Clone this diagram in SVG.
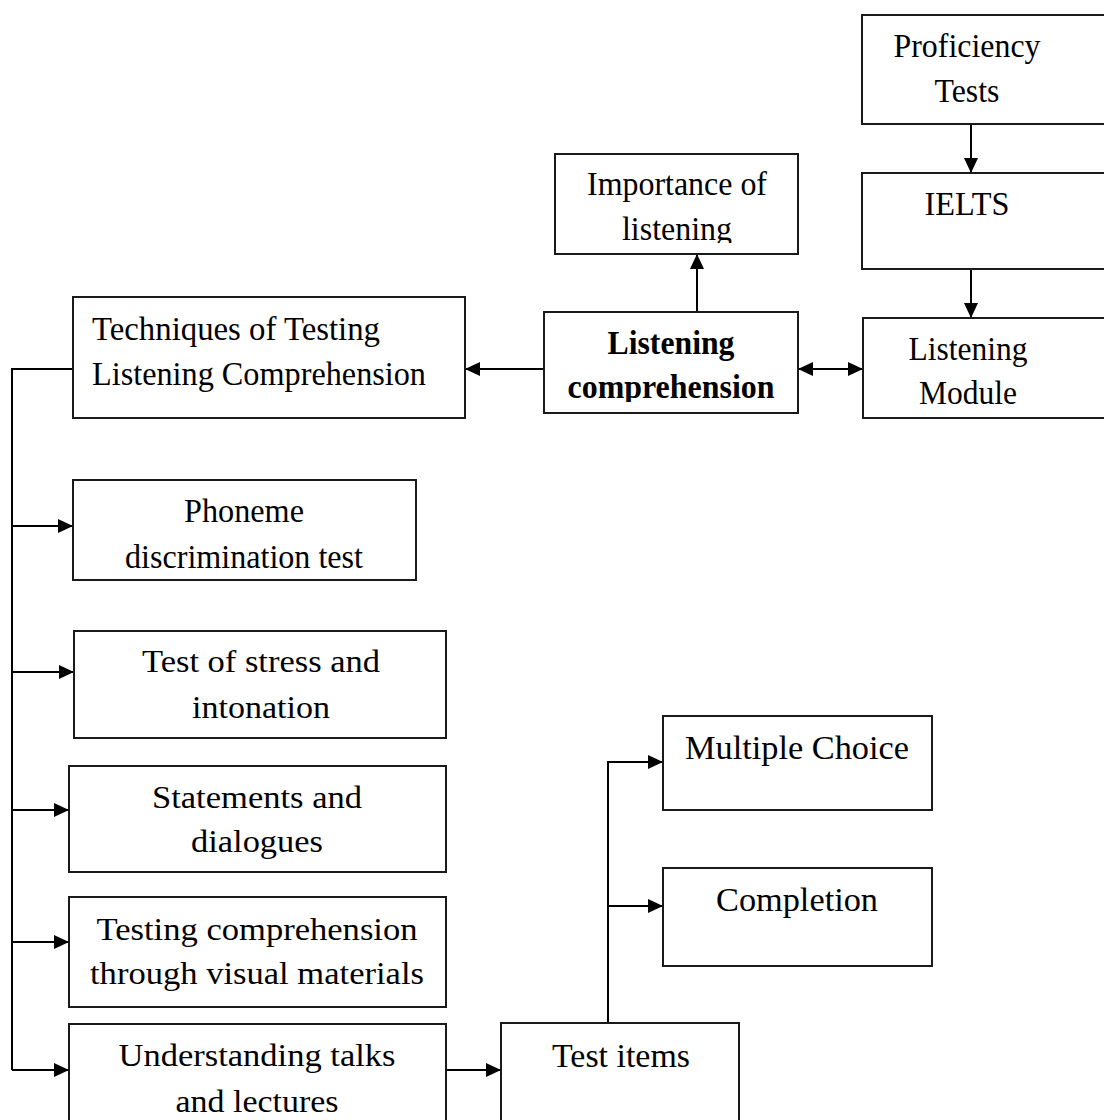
<svg xmlns="http://www.w3.org/2000/svg" width="1104" height="1120" viewBox="0 0 1104 1120">
<style>
.box{fill:#fff;stroke:#1a1a1a;stroke-width:2}
.t{font-family:"Liberation Serif","Times New Roman",serif;font-size:34px;fill:#000;text-anchor:middle}
.s33{font-size:33px}
.s32{font-size:32px}
.b{font-weight:bold}
.l{text-anchor:start}
.c{fill:none;stroke:#000;stroke-width:2}
</style>
<defs>
<marker id="ah" markerUnits="userSpaceOnUse" viewBox="0 0 15 14" refX="15" refY="7" markerWidth="15" markerHeight="14" orient="auto-start-reverse">
<path d="M0,0 L15,7 L0,14 z" fill="#000"/>
</marker>
<clipPath id="cImp"><rect x="556" y="155" width="241" height="88"/></clipPath>
<clipPath id="cLC"><rect x="545" y="313" width="252" height="89"/></clipPath>
<clipPath id="cLM"><rect x="864" y="318" width="250" height="88"/></clipPath>
</defs>
<g id="connectors">
<path class="c" d="M697,312 V254" marker-end="url(#ah)"/>
<path class="c" d="M544,369 H465" marker-end="url(#ah)"/>
<path class="c" d="M798,369 H863" marker-start="url(#ah)" marker-end="url(#ah)"/>
<path class="c" d="M971,124 V173" marker-end="url(#ah)"/>
<path class="c" d="M971,269 V318" marker-end="url(#ah)"/>
<path class="c" d="M73,369 H12 V1070"/>
<path class="c" d="M12,526 H73" marker-end="url(#ah)"/>
<path class="c" d="M12,672 H74" marker-end="url(#ah)"/>
<path class="c" d="M12,810 H69" marker-end="url(#ah)"/>
<path class="c" d="M12,942 H69" marker-end="url(#ah)"/>
<path class="c" d="M12,1070 H69" marker-end="url(#ah)"/>
<path class="c" d="M446,1070 H501" marker-end="url(#ah)"/>
<path class="c" d="M608,1023 V762 H663" marker-end="url(#ah)"/>
<path class="c" d="M608,906 H663" marker-end="url(#ah)"/>
</g>
<g id="proficiency">
<rect class="box" x="862" y="15" width="260" height="109"/>
<text class="t" x="967" y="57" textLength="147" lengthAdjust="spacingAndGlyphs">Proficiency</text>
<text class="t" x="967" y="102" textLength="65" lengthAdjust="spacingAndGlyphs">Tests</text>
</g>
<g id="ielts">
<rect class="box" x="862" y="173" width="260" height="96"/>
<text class="t" x="967" y="215" textLength="85" lengthAdjust="spacingAndGlyphs">IELTS</text>
</g>
<g id="listening-module">
<rect class="box" x="863" y="318" width="260" height="100"/>
<g clip-path="url(#cLM)">
<text class="t" x="968" y="360" textLength="119" lengthAdjust="spacingAndGlyphs">Listening</text>
<text class="t" x="968" y="404" textLength="98" lengthAdjust="spacingAndGlyphs">Module</text>
</g>
</g>
<g id="importance">
<rect class="box" x="555" y="154" width="243" height="100"/>
<g clip-path="url(#cImp)">
<text class="t" x="677" y="195" textLength="180" lengthAdjust="spacingAndGlyphs">Importance of</text>
<text class="t" x="677" y="240" textLength="110" lengthAdjust="spacingAndGlyphs">listening</text>
</g>
</g>
<g id="listening-comprehension">
<rect class="box" x="544" y="312" width="254" height="101"/>
<g clip-path="url(#cLC)">
<text class="t b" x="671" y="354" textLength="127" lengthAdjust="spacingAndGlyphs">Listening</text>
<text class="t b" x="671" y="398" textLength="207" lengthAdjust="spacingAndGlyphs">comprehension</text>
</g>
</g>
<g id="techniques">
<rect class="box" x="73" y="297" width="392" height="121"/>
<text class="t l" x="92" y="340" textLength="288" lengthAdjust="spacingAndGlyphs">Techniques of Testing</text>
<text class="t l" x="92" y="385" textLength="334" lengthAdjust="spacingAndGlyphs">Listening Comprehension</text>
</g>
<g id="phoneme">
<rect class="box" x="73" y="480" width="343" height="100"/>
<text class="t s33" x="244" y="522" textLength="120" lengthAdjust="spacingAndGlyphs">Phoneme</text>
<text class="t s33" x="244" y="568" textLength="238" lengthAdjust="spacingAndGlyphs">discrimination test</text>
</g>
<g id="stress">
<rect class="box" x="74" y="631" width="372" height="107"/>
<text class="t s32" x="261" y="672" textLength="238" lengthAdjust="spacingAndGlyphs">Test of stress and</text>
<text class="t s32" x="261" y="718" textLength="138" lengthAdjust="spacingAndGlyphs">intonation</text>
</g>
<g id="statements">
<rect class="box" x="69" y="766" width="377" height="106"/>
<text class="t s32" x="257" y="808" textLength="210" lengthAdjust="spacingAndGlyphs">Statements and</text>
<text class="t s32" x="257" y="852" textLength="132" lengthAdjust="spacingAndGlyphs">dialogues</text>
</g>
<g id="visual">
<rect class="box" x="69" y="897" width="377" height="110"/>
<text class="t s32" x="257" y="940" textLength="321" lengthAdjust="spacingAndGlyphs">Testing comprehension</text>
<text class="t s32" x="257" y="984" textLength="334" lengthAdjust="spacingAndGlyphs">through visual materials</text>
</g>
<g id="understanding">
<rect class="box" x="69" y="1024" width="377" height="110"/>
<text class="t s32" x="257" y="1066" textLength="277" lengthAdjust="spacingAndGlyphs">Understanding talks</text>
<text class="t s32" x="257" y="1112" textLength="163" lengthAdjust="spacingAndGlyphs">and lectures</text>
</g>
<g id="test-items">
<rect class="box" x="501" y="1023" width="238" height="110"/>
<text class="t s33" x="621" y="1067" textLength="138" lengthAdjust="spacingAndGlyphs">Test items</text>
</g>
<g id="multiple-choice">
<rect class="box" x="663" y="716" width="269" height="94"/>
<text class="t" x="797" y="759" textLength="224" lengthAdjust="spacingAndGlyphs">Multiple Choice</text>
</g>
<g id="completion">
<rect class="box" x="663" y="868" width="269" height="98"/>
<text class="t" x="797" y="911" textLength="162" lengthAdjust="spacingAndGlyphs">Completion</text>
</g>
</svg>
